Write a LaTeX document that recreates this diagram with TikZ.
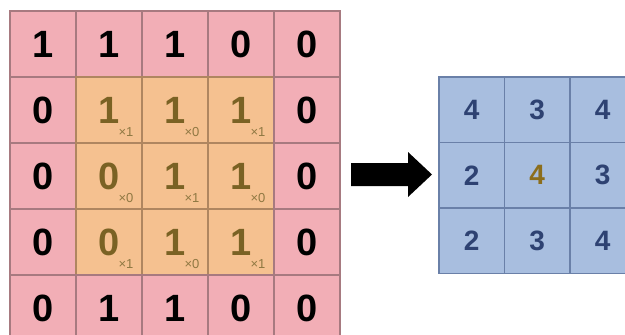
\documentclass[tikz,border=0pt]{standalone}
\usepackage{fontspec}
\setmainfont{Liberation Sans}
\definecolor{pinkfill}{HTML}{F2AEB6}
\definecolor{pinkline}{HTML}{A77A80}
\definecolor{orangefill}{HTML}{F5C190}
\definecolor{orangeline}{HTML}{AF8660}
\definecolor{bluefill}{HTML}{A8BEDF}
\definecolor{blueline}{HTML}{6A80A8}
\definecolor{olivetext}{HTML}{7A6224}
\definecolor{olivesub}{HTML}{8F7842}
\definecolor{bluetext}{HTML}{2E4272}
\definecolor{centertext}{HTML}{8C6E1C}
\begin{document}
\begin{tikzpicture}[x=1pt,y=-1pt,
  lcell/.style={draw=pinkline,fill=pinkfill,line width=1.2pt,minimum size=66pt,inner sep=0pt,outer sep=0pt,
    font=\fontsize{38}{38}\selectfont\bfseries,text=black},
  ocell/.style={lcell,draw=orangeline,fill=orangefill,text=olivetext},
  rcell/.style={draw=blueline,fill=bluefill,line width=1.1pt,minimum size=65.5pt,inner sep=0pt,outer sep=0pt,
    font=\fontsize{28}{28}\selectfont\bfseries,text=bluetext},
  subtxt/.style={inner sep=0pt,font=\fontsize{13}{13}\selectfont,text=olivesub},
  bigarrow/.style={fill=black,draw=none}
]
\useasboundingbox (0,0) rectangle (625,335);
\clip (0,0) rectangle (625,335);
% left grid (5x5)
\foreach \r/\row in {1/{1,1,1,0,0},2/{0,1,1,1,0},3/{0,0,1,1,0},4/{0,0,1,1,0},5/{0,1,1,0,0}}{
  \foreach \v [count=\c] in \row {
    \pgfmathsetmacro{\isin}{(\r>1)&&(\r<5)&&(\c>1)&&(\c<5)}
    \ifdim\isin pt>0.5pt
      \node[ocell] (L\r\c) at ({10+33+66*(\c-1)},{11+33+66*(\r-1)}) {\v};
    \else
      \node[lcell] (L\r\c) at ({10+33+66*(\c-1)},{11+33+66*(\r-1)}) {\v};
    \fi
  }
}
% kernel weights
\node[subtxt] (s22) at ([shift={(17,22)}]L22.center) {×1};
\node[subtxt] (s23) at ([shift={(17,22)}]L23.center) {×0};
\node[subtxt] (s24) at ([shift={(17,22)}]L24.center) {×1};
\node[subtxt] (s32) at ([shift={(17,22)}]L32.center) {×0};
\node[subtxt] (s33) at ([shift={(17,22)}]L33.center) {×1};
\node[subtxt] (s34) at ([shift={(17,22)}]L34.center) {×0};
\node[subtxt] (s42) at ([shift={(17,22)}]L42.center) {×1};
\node[subtxt] (s43) at ([shift={(17,22)}]L43.center) {×0};
\node[subtxt] (s44) at ([shift={(17,22)}]L44.center) {×1};
% arrow
\coordinate (a1) at (351,163);
\coordinate (a2) at (408,163);
\coordinate (a3) at (408,152);
\coordinate (tip) at (432,174.5);
\coordinate (a5) at (408,197);
\coordinate (a6) at (408,186);
\coordinate (a7) at (351,186);
\fill[bigarrow] (a1) -- (a2) -- (a3) -- (tip) -- (a5) -- (a6) -- (a7) -- cycle;
% right grid (3x3)
\foreach \r/\row in {1/{4,3,4},2/{2,4,3},3/{2,3,4}}{
  \foreach \v [count=\c] in \row {
    \ifnum\r\c=22
      \node[rcell,text=centertext] (R\r\c) at ({439+32.75+65.5*(\c-1)},{77+32.75+65.5*(\r-1)}) {\v};
    \else
      \node[rcell] (R\r\c) at ({439+32.75+65.5*(\c-1)},{77+32.75+65.5*(\r-1)}) {\v};
    \fi
  }
}
\end{tikzpicture}
\end{document}
